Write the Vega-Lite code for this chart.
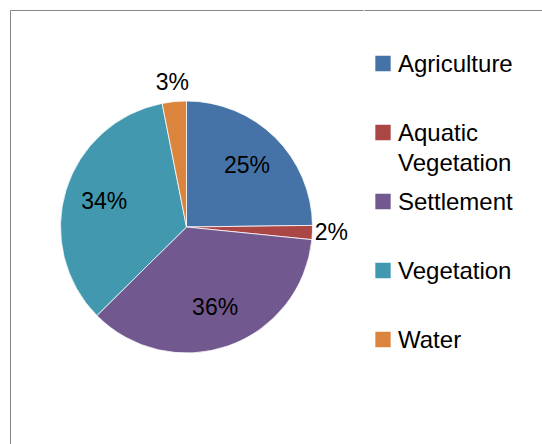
{
  "$schema": "https://vega.github.io/schema/vega-lite/v6.json",
  "background": "white",
  "padding": {"left": 9, "top": 9, "right": 0, "bottom": 0},
  "spacing": -4,
  "config": {
    "style": {"guide-label": {"lineBreak": " ", "lineHeight": 30, "dy": 8}}
  },
  "datasets": {
    "landuse": [
      {"category": "Agriculture", "value": 24.8, "share": 0.248},
      {"category": "Aquatic Vegetation", "value": 1.8, "share": 0.018},
      {"category": "Settlement", "value": 36.0, "share": 0.360},
      {"category": "Vegetation", "value": 34.3, "share": 0.343},
      {"category": "Water", "value": 3.1, "share": 0.031}
    ]
  },
  "hconcat": [
    {
      "width": 353,
      "height": 434,
      "view": {"stroke": "#868686", "strokeWidth": 1, "strokeDash": [353, 787, 434]},
      "data": {"name": "landuse"},
      "layer": [
        {
          "mark": {"type": "arc", "outerRadius": 126, "stroke": "white", "strokeWidth": 0.75},
          "encoding": {
            "theta": {"field": "value", "type": "quantitative", "stack": true},
            "order": {"field": "category", "type": "nominal", "sort": "ascending"},
            "color": {
              "field": "category",
              "type": "nominal",
              "scale": {
                "domain": ["Agriculture", "Aquatic Vegetation", "Settlement", "Vegetation", "Water"],
                "range": ["#4572A7", "#AA4643", "#71588F", "#4198AF", "#DB843D"]
              },
              "legend": {
                "orient": "none",
                "legendX": 361,
                "legendY": 39.5,
                "title": null,
                "padding": 0,
                "symbolType": "square",
                "symbolSize": 235,
                "symbolStrokeWidth": 0,
                "labelFont": "Liberation Sans",
                "labelFontSize": 24,
                "labelColor": "black",
                "labelOffset": 3,
                "labelLimit": 300,
                "clipHeight": 28,
                "gridAlign": "all",
                "rowPadding": 12,
                "labelBaseline": "alphabetic"
              }
            }
          }
        },
        {
          "mark": {"type": "text", "radius": 86, "font": "Liberation Sans", "fontSize": 23, "color": "black"},
          "encoding": {
            "theta": {"field": "value", "type": "quantitative", "stack": true},
            "order": {"field": "category", "type": "nominal", "sort": "ascending"},
            "detail": {"field": "category", "type": "nominal"},
            "text": {"field": "share", "type": "quantitative", "format": ".0%", "condition": {"test": "datum.value < 5", "value": ""}}
          }
        },
        {
          "mark": {"type": "text", "radius": 145, "font": "Liberation Sans", "fontSize": 23, "color": "black"},
          "encoding": {
            "theta": {"field": "value", "type": "quantitative", "stack": true},
            "order": {"field": "category", "type": "nominal", "sort": "ascending"},
            "detail": {"field": "category", "type": "nominal"},
            "text": {"field": "share", "type": "quantitative", "format": ".0%", "condition": {"test": "datum.value >= 5", "value": ""}}
          }
        }
      ]
    },
    {
      "width": 183,
      "height": 434,
      "view": {"stroke": "#868686", "strokeWidth": 1, "strokeDash": [183, 1051]},
      "data": {"values": []},
      "mark": "point"
    }
  ]
}
